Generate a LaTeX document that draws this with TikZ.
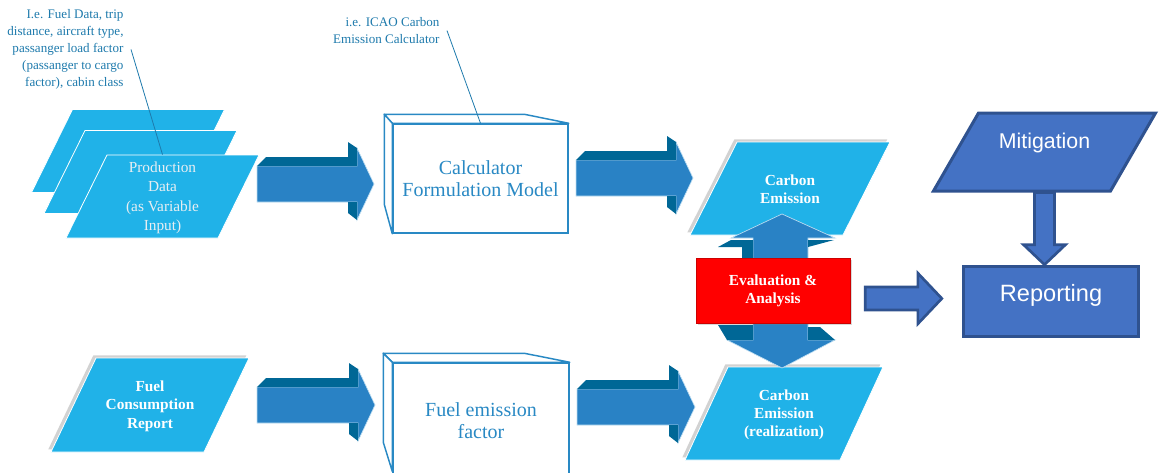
\documentclass[tikz,border=0pt]{standalone}
\usepackage{fontspec}
\setmainfont{Liberation Serif}
\newfontfamily\arialfont{Liberation Sans}
\usetikzlibrary{shapes.geometric,shadows,calc}

\definecolor{cyanfill}{RGB}{32,178,232}
\definecolor{arrmid}{RGB}{41,130,197}
\definecolor{arrdark}{RGB}{0,103,150}
\definecolor{arredge}{RGB}{190,222,242}
\definecolor{boxblue}{RGB}{41,137,196}
\definecolor{notetext}{RGB}{30,122,172}
\definecolor{mitfill}{RGB}{68,114,196}
\definecolor{mitline}{RGB}{47,82,143}
\definecolor{prodtext}{RGB}{232,238,242}

\tikzset{every picture/.style={line width=0.75pt}}
\tikzset{
  para/.style={trapezium, trapezium left angle=#1, trapezium right angle=180-#1,
    fill=cyanfill, draw=white, line width=0.6pt, inner sep=0pt},
  para/.default=64,
  shade/.style={drop shadow={shadow xshift=-2pt, shadow yshift=2pt, opacity=0.25, fill=black!70}},
  cube/.style={draw=boxblue, line width=1.1pt, fill=white, inner sep=0pt, align=center,
    text=boxblue, font=\fontsize{15}{16.5}\selectfont},
  cubeline/.style={draw=boxblue, line width=1.1pt, fill=white, line join=round},
  note/.style={text=notetext, align=right, inner sep=0pt, font=\fontsize{9.8}{12.75}\selectfont},
  noteline/.style={draw=notetext, line width=0.6pt},
  boldtext/.style={text=white, font=\bfseries\fontsize{11.5}{13.7}\selectfont},
  flatarrow/.style={fill=mitfill, draw=mitline, line width=2pt, line join=miter},
}

% text box of a parallelogram: height, width, text
\newcommand{\paracontent}[3]{\parbox[c][#1][c]{#2}{\centering\strut #3}}

% 3D block arrow between two coordinates (same height)
\newcommand{\flowarrow}[2]{%
  \fill[arrmid, draw=arredge, line width=0.5pt] let \p1=(#1), \p2=(#2) in
    (\x1,\y1-13.5pt) -- (\x2-12.75pt,\y1-13.5pt) -- (\x2-12.75pt,\y1-27pt) -- (\x2,\y1)
    -- (\x2-12.75pt,\y1+27pt) -- (\x2-12.75pt,\y1+13.5pt) -- (\x1,\y1+13.5pt) -- cycle;
  \fill[arrdark] let \p1=(#1), \p2=(#2) in
    (\x1,\y1-13.5pt) -- (\x1+6.75pt,\y1-20.25pt) -- (\x2-19.5pt,\y1-20.25pt) -- (\x2-19.5pt,\y1-31.5pt)
    -- (\x2-12.75pt,\y1-27pt) -- (\x2-12.75pt,\y1-13.5pt) -- cycle;
  \fill[arrdark] let \p1=(#1), \p2=(#2) in
    (\x2-19.5pt,\y1+13.5pt) -- (\x2-12.75pt,\y1+13.5pt) -- (\x2-12.75pt,\y1+27pt) -- (\x2-19.5pt,\y1+21.75pt) -- cycle;
}

\begin{document}
\begin{tikzpicture}[x=0.75pt,y=0.75pt,yscale=-1,xscale=1]
\useasboundingbox (0,0) rectangle (1159,472);

%Shape: Production Data stack
\node[para=63.7] (prodA) at (128,151) {\paracontent{62.25pt}{83.25pt}{}};
\node[para=63.7] (prodB) at (140.5,172) {\paracontent{62.25pt}{83.25pt}{}};
\node[para=63.7, text=prodtext, font=\fontsize{11.5}{14.4}\selectfont] (prodC) at (162.5,196.5)
  {\paracontent{62.25pt}{83.25pt}{Production\\Data\\(as Variable\\Input)}};

% Text Node
\node[note, anchor=north east] (noteA) at (124,9) {I.e. Fuel Data, trip\\distance, aircraft type,\\passanger load factor\\(passanger to cargo\\factor), cabin class};
\draw[noteline] ($(noteA.east)+(7,0)$) -- (prodC.north);

%Shape: Calculator cube
\node[cube, minimum width=131.25pt, minimum height=81.75pt] (calc) at (480.5,178.5) {Calculator\\Formulation Model};
\draw[cubeline] (calc.north west) -- ++(-8,-9) -- ++(140,0) -- (calc.north east) -- cycle;
\draw[cubeline] (calc.north west) ++(-8,-9) -- ++(0,90) -- (calc.south west) -- (calc.north west) -- cycle;

% Text Node
\node[note, anchor=north east] (noteB) at (440,17) {i.e. ICAO Carbon\\Emission Calculator};
\draw[noteline] ($(noteB.east)+(7,0)$) -- (calc.north);

%Block arrows (top row)
\coordinate (a1s) at (257,184);
\coordinate (a1e) at (374,184);
\flowarrow{a1s}{a1e}
\coordinate (a2s) at (576,178);
\coordinate (a2e) at (693,178);
\flowarrow{a2s}{a2e}

%Shape: Carbon Emission
\node[para=63.2, shade, boldtext] (ce) at (790,188.5) {\paracontent{69.75pt}{79.5pt}{Carbon\\Emission}};
\node[para=65.2, shade, boldtext] (cer) at (784,413.5) {\paracontent{69.75pt}{84pt}{Carbon\\Emission\\(realization)}};

%Double arrow behind evaluation box
\fill[arrmid, draw=arredge, line width=0.5pt] (782,214) -- (835,238) -- (808,238) -- (808,340) -- (835,340) -- (782,368)
  -- (727,340) -- (753,340) -- (753,238) -- (731,238) -- cycle;
\fill[arrdark] (718,247) -- (731,240) -- (753,240) -- (753,258) -- (742,258) -- (742,247) -- cycle;
\fill[arrdark] (808,240) -- (834,240) -- (808,247) -- cycle;
\fill[arrdark] (718,325) -- (753,325) -- (753,340) -- (727,340) -- cycle;
\fill[arrdark] (808,327) -- (820,327) -- (835,340) -- (808,340) -- cycle;

%Shape: Evaluation box
\node[fill=red, draw=red!80!black, line width=0.4pt, boldtext, align=center, minimum width=115.5pt, minimum height=48.75pt,
  drop shadow={shadow xshift=1.5pt, shadow yshift=-1.5pt, opacity=0.3}] (eval) at (773,290.5) {Evaluation \&\\Analysis};

%Shape: Mitigation and Reporting
\node[para=60, fill=mitfill, draw=mitline, line width=2.25pt, text=white,
  font=\arialfont\fontsize{16}{19}\selectfont] (mit) at (1044.5,152) {\paracontent{58.5pt}{99pt}{Mitigation\par\vspace{13.5pt}}};
\node[fill=mitfill, draw=mitline, line width=2.25pt, minimum width=131.5pt, minimum height=53pt, inner sep=0pt,
  text=white, font=\arialfont\fontsize{17.7}{21}\selectfont, text height=12.7pt, text depth=12pt] (rep) at (1051,301.5) {Reporting};

\draw[flatarrow] let \p1=($(eval.east)+(15,8)$), \p2=($(rep.west)+(-20,0)$) in
  (\x1,\y1+8.6pt) -- (\x2-18pt,\y1+8.6pt) -- (\x2-18pt,\y1+19pt) -- (\x2,\y1)
  -- (\x2-18pt,\y1-19pt) -- (\x2-18pt,\y1-8.6pt) -- (\x1,\y1-8.6pt) -- cycle;
\draw[flatarrow] let \p1=(mit.center |- mit.south), \p2=(mit.center |- rep.north) in
  (\x1-7.5pt,\y1) -- (\x1-7.5pt,\y2-15pt) -- (\x1-15.75pt,\y2-15pt) -- (\x1,\y2)
  -- (\x1+15.75pt,\y2-15pt) -- (\x1+7.5pt,\y2-15pt) -- (\x1+7.5pt,\y1) -- cycle;

%Shape: Fuel Consumption Report
\node[para=64.4, shade, boldtext] (fuelrep) at (150,405) {\paracontent{70.5pt}{81pt}{Fuel\\Consumption\\Report}};

%Block arrows (bottom row)
\coordinate (a3s) at (257,405);
\coordinate (a3e) at (375,405);
\flowarrow{a3s}{a3e}
\coordinate (a4s) at (577,407);
\coordinate (a4e) at (695,407);
\flowarrow{a4s}{a4e}

%Shape: Fuel emission factor cube
\node[cube, minimum width=132pt, minimum height=86.25pt] (fuelf) at (481,420.5) {Fuel emission\\factor};
\draw[cubeline] (fuelf.north west) -- ++(-9,-9) -- ++(141,0) -- (fuelf.north east) -- cycle;
\draw[cubeline] (fuelf.north west) ++(-9,-9) -- ++(0,89) -- ++(9,29) -- (fuelf.north west) -- cycle;

\end{tikzpicture}
\end{document}
